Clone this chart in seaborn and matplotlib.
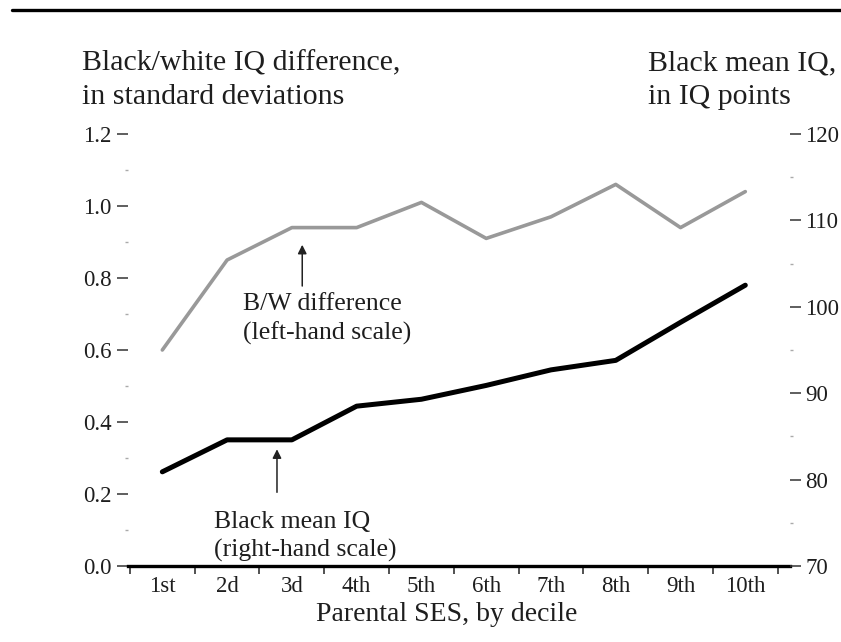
import matplotlib
matplotlib.use("Agg")
import matplotlib.pyplot as plt
import seaborn as sns
import pandas as pd
import numpy as np
from matplotlib.lines import Line2D
from matplotlib.ticker import MultipleLocator, FixedLocator, FormatStrFormatter

# ---- data ----
deciles = ["1st", "2d", "3d", "4th", "5th", "6th", "7th", "8th", "9th", "10th"]
bw_diff = [0.60, 0.85, 0.94, 0.94, 1.01, 0.91, 0.97, 1.06, 0.94, 1.04]
black_iq = [80.9, 84.6, 84.6, 88.5, 89.3, 90.9, 92.7, 93.8, 98.2, 102.5]
left_ticks = [0.0, 0.2, 0.4, 0.6, 0.8, 1.0, 1.2]
right_ticks = [70, 80, 90, 100, 110, 120]

sns.set_theme(style="white")
plt.rcParams['font.family'] = ['Liberation Serif', 'DejaVu Serif']

TXT = "#1e1e1e"
W, H = 841, 642
fig = plt.figure(figsize=(W / 100, H / 100), dpi=100)
ax = fig.add_axes([128 / W, 76 / H, 662 / W, 432 / H])
ax2 = ax.twinx()

df = pd.DataFrame({"decile": deciles, "bw": bw_diff, "iq": black_iq})
sns.lineplot(data=df, x="decile", y="bw", ax=ax, color="#999999", lw=2.6, sort=False)
sns.lineplot(data=df, x="decile", y="iq", ax=ax2, color="black", lw=3.6, sort=False)

# x axis
ax.set_xlim(-0.53, 9.69)
ax.set_xticks(range(len(deciles)))
ax.set_xticklabels(deciles)
ax.xaxis.set_minor_locator(FixedLocator(np.arange(-0.5, len(deciles), 1.0)))
ax.tick_params(axis="x", which="major", length=0, pad=7, labelsize=16.5, colors=TXT)
ax.tick_params(axis="x", which="minor", bottom=True, length=6, width=1.2, direction="out", color="#333333")
ax.set_xlabel("")
ax2.set_xlabel("")

# left axis
ax.set_ylim(0, 1.2)
ax.set_yticks(left_ticks)
ax.yaxis.set_major_formatter(FormatStrFormatter("%.1f"))
ax.yaxis.set_minor_locator(MultipleLocator(0.1))
ax.tick_params(axis="y", which="major", left=True, length=8, width=1.1, pad=4,
               labelsize=16.5, direction="out", color="#333333", labelcolor=TXT)
ax.tick_params(axis="y", which="minor", left=True, length=2.5, width=1.0, direction="out",
               color="#aaaaaa")
ax.set_ylabel("")

# right axis
ax2.set_ylim(70, 120)
ax2.set_yticks(right_ticks)
ax2.yaxis.set_minor_locator(MultipleLocator(5))
ax2.tick_params(axis="y", which="major", right=True, length=8, width=1.1, pad=3,
                labelsize=16.5, direction="out", color="#333333", labelcolor=TXT)
ax2.tick_params(axis="y", which="minor", right=True, length=2.5, width=1.0, direction="out",
                color="#aaaaaa")
ax2.set_ylabel("")

for s in ["top", "left", "right"]:
    ax.spines[s].set_visible(False)
for s in ["top", "left", "right", "bottom"]:
    ax2.spines[s].set_visible(False)
ax.spines["bottom"].set_linewidth(2.4)
ax.spines["bottom"].set_color("black")
ax.patch.set_visible(False)

# annotations
ax.annotate("", xy=(2.16, 0.9), xytext=(2.16, 0.77),
            arrowprops=dict(arrowstyle="-|>", color="#222222", lw=1.1, mutation_scale=13))
ax.text(1.25, 0.711, "B/W difference", fontsize=18.5, va="baseline", ha="left", color=TXT)
ax.text(1.25, 0.628, "(left-hand scale)", fontsize=18.5, va="baseline", ha="left", color=TXT)

ax.annotate("", xy=(1.77, 0.332), xytext=(1.77, 0.197),
            arrowprops=dict(arrowstyle="-|>", color="#222222", lw=1.1, mutation_scale=13))
ax.text(0.79, 0.106, "Black mean IQ", fontsize=18.5, va="baseline", ha="left", color=TXT)
ax.text(0.79, 0.025, "(right-hand scale)", fontsize=18.5, va="baseline", ha="left", color=TXT)

# headers
fig.text(82 / W, 1 - 70 / H, "Black/white IQ difference,", fontsize=21.5, va="baseline", color=TXT)
fig.text(82 / W, 1 - 104 / H, "in standard deviations", fontsize=21.5, va="baseline", color=TXT)
fig.text(648 / W, 1 - 70 / H, "Black mean IQ,", fontsize=21.5, va="baseline", color=TXT)
fig.text(648 / W, 1 - 104 / H, "in IQ points", fontsize=21.5, va="baseline", color=TXT)
fig.text(447 / W, 1 - 621 / H, "Parental SES, by decile", fontsize=20, va="baseline", ha="center",
         color=TXT)

# top rule
fig.add_artist(Line2D([12 / W, 1.0], [1 - 10 / H, 1 - 10 / H], transform=fig.transFigure,
                      color="black", lw=2.4))

fig.savefig("out.png", dpi=100)
